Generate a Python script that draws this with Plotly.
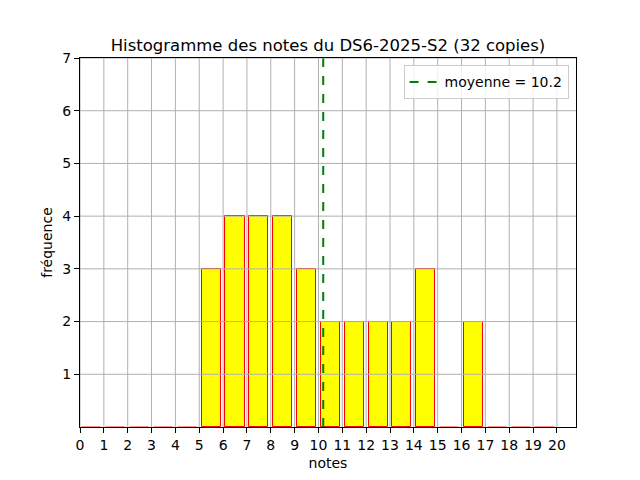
import plotly.graph_objects as go

# Data
bin_starts = list(range(20))
counts = [0, 0, 0, 0, 0, 3, 4, 4, 4, 3, 2, 2, 2, 2, 3, 0, 2, 0, 0, 0]
mean_note = 10.2
title = "Histogramme des notes du DS6-2025-S2 (32 copies)"
x_ticks = list(range(21))
y_ticks = list(range(1, 8))

bar_centers = [b + 0.5 for b in bin_starts]
edge_colors = ["red" if c > 0 else "rgba(255,0,0,0.25)" for c in counts]

fig = go.Figure()
fig.add_trace(go.Bar(
    x=bar_centers, y=counts, width=0.8,
    marker=dict(color="yellow", line=dict(color=edge_colors, width=1)),
    showlegend=False, hoverinfo="x+y",
))
fig.add_trace(go.Scatter(
    x=[mean_note, mean_note], y=[0, 7], mode="lines",
    line=dict(color="green", width=2, dash="dash"),
    name=f"moyenne = {mean_note}",
))

# grid lines drawn above bars (as in the reference)
shapes = []
for t in x_ticks:
    shapes.append(dict(type="line", xref="x", yref="paper", x0=t, x1=t, y0=0, y1=1,
                       line=dict(color="#b0b0b0", width=1), layer="above"))
for t in y_ticks:
    shapes.append(dict(type="line", xref="paper", yref="y", x0=0, x1=1, y0=t, y1=t,
                       line=dict(color="#b0b0b0", width=1), layer="above"))

fig.update_layout(
    width=640, height=480,
    margin=dict(l=72, r=72, t=50, b=61),
    paper_bgcolor="white", plot_bgcolor="white",
    font=dict(family="DejaVu Sans", size=14, color="black"),
    title=dict(text=title, x=0.5, xanchor="center", y=0.923, yanchor="middle",
               font=dict(size=16.5)),
    shapes=shapes,
    bargap=0,
    legend=dict(x=0.985, y=0.98, xanchor="right", yanchor="top",
                bgcolor="rgba(255,255,255,0.8)", bordercolor="#cccccc", borderwidth=1,
                font=dict(size=14)),
    xaxis=dict(range=[0, 20.8], tickmode="array", tickvals=x_ticks,
               ticktext=[str(t) for t in x_ticks], showgrid=False, zeroline=False,
               showline=True, linecolor="black", linewidth=1, mirror=True,
               ticks="outside", ticklen=5, tickcolor="black", automargin=False,
               title=dict(text="notes", standoff=6, font=dict(size=14))),
    yaxis=dict(range=[0, 7], tickmode="array", tickvals=y_ticks,
               ticktext=[str(t) for t in y_ticks], showgrid=False, zeroline=False,
               showline=True, linecolor="black", linewidth=1, mirror=True,
               ticks="outside", ticklen=5, tickcolor="black", automargin=False,
               title=dict(text="fréquence", standoff=6, font=dict(size=14))),
)

fig.write_html("out.html")
